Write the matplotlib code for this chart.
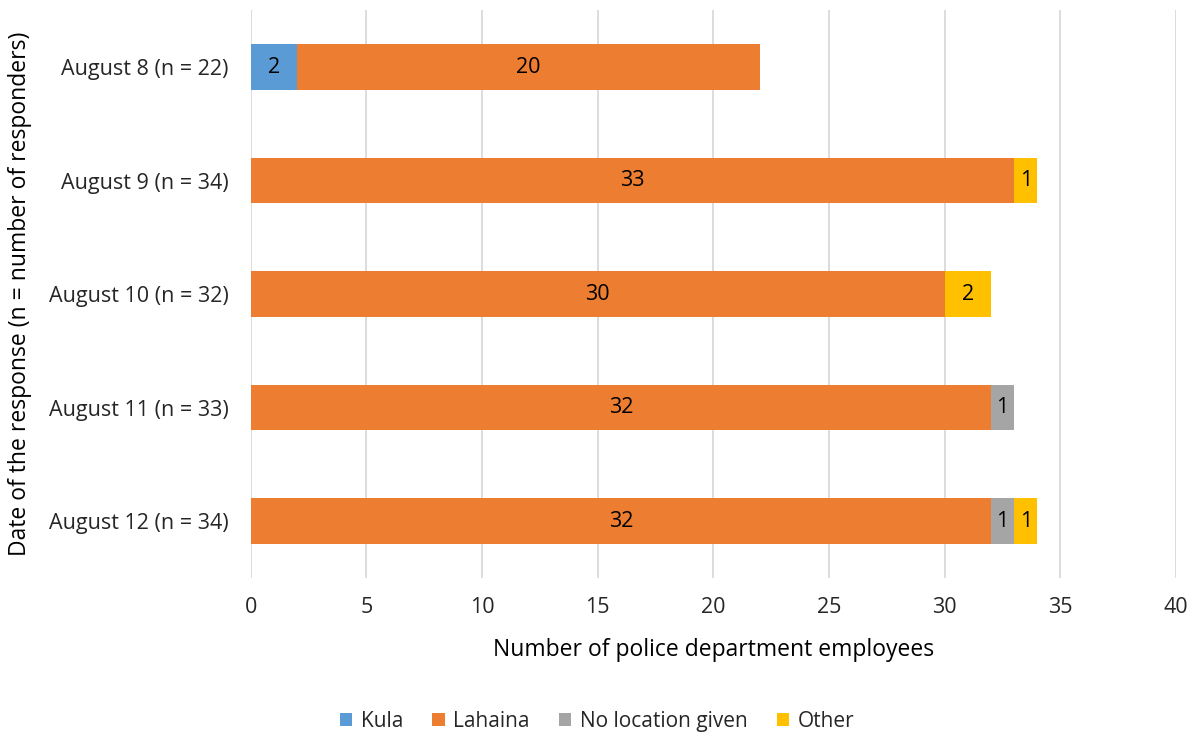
import matplotlib
matplotlib.use("Agg")
import matplotlib.pyplot as plt
import numpy as np

categories = ["August 8 (n = 22)", "August 9 (n = 34)", "August 10 (n = 32)",
              "August 11 (n = 33)", "August 12 (n = 34)"]
kula = [2, 0, 0, 0, 0]
lahaina = [20, 33, 30, 32, 32]
no_location = [0, 0, 0, 1, 1]
other = [0, 1, 2, 0, 1]

series = [("Kula", kula, "#5B9BD5"),
          ("Lahaina", lahaina, "#ED7D31"),
          ("No location given", no_location, "#A5A5A5"),
          ("Other", other, "#FFC000")]

plt.rcParams['font.family'] = ['Open Sans', 'DejaVu Sans']

fig = plt.figure(figsize=(11.94, 7.36), dpi=100)
ax = fig.add_axes([0.210, 0.215, 0.775, 0.771])

y = np.arange(len(categories))
left = np.zeros(len(categories))
for name, vals, color in series:
    vals = np.array(vals, dtype=float)
    bars = ax.barh(y, vals, left=left, height=0.4, color=color, label=name, zorder=3)
    for b, v in zip(bars, vals):
        if v > 0:
            ax.text(b.get_x() + b.get_width() / 2, b.get_y() + b.get_height() / 2,
                    f"{int(v)}", ha="center", va="center", fontsize=15.5, color="black", zorder=4)
    left += vals

ax.set_yticks(y)
ax.set_yticklabels(categories, fontsize=15.5, color="#262626")
ax.set_ylim(4.5, -0.5)
ax.set_xlim(0, 40)
ax.set_xticks(range(0, 41, 5))
ax.tick_params(axis="x", labelsize=15.5, colors="#262626", length=0, pad=14)
ax.tick_params(axis="y", length=0, pad=16)
ax.grid(axis="x", color="#D9D9D9", linewidth=1.3, zorder=0)
for s in ax.spines.values():
    s.set_visible(False)

ax.set_xlabel("Number of police department employees", fontsize=16.5, color="#000000", labelpad=14)
ax.set_ylabel("Date of the response (n = number of responders)", fontsize=16.5, color="#000000", labelpad=12)

fig.legend(loc="center", bbox_to_anchor=(0.5, 0.02), ncol=4, frameon=False,
           fontsize=15, handlelength=0.6, handleheight=0.6, columnspacing=1.4, handletextpad=0.4,
           labelcolor="#262626")

fig.savefig("out.png", dpi=100)
